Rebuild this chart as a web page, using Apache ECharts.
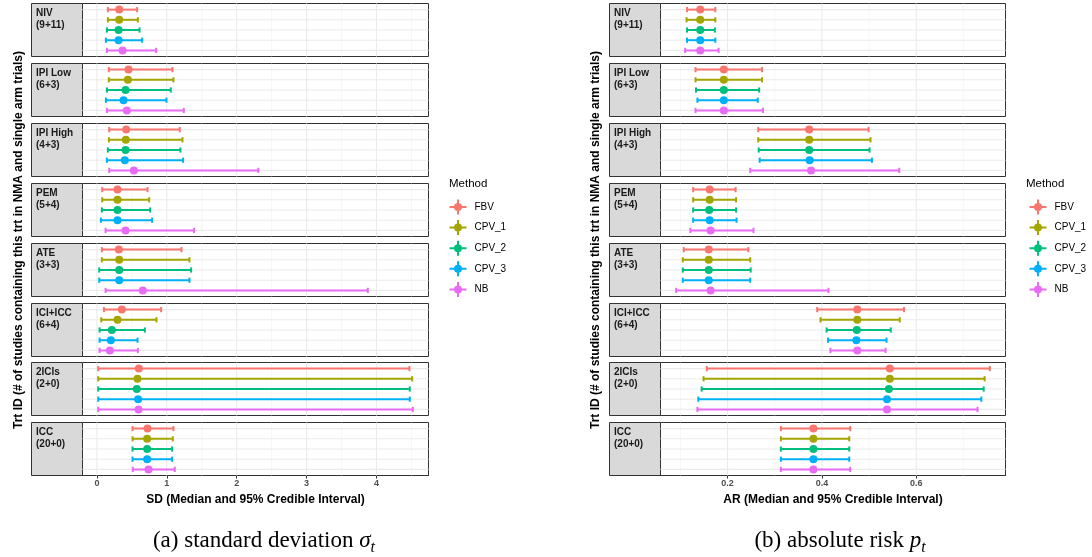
<!DOCTYPE html>
<html><head><meta charset="utf-8">
<script src="https://cdn.jsdelivr.net/npm/echarts@6/dist/echarts.min.js"></script>
<style>html,body{margin:0;padding:0;background:#fff}#c{width:1092px;height:557px}</style>
</head><body><div id="c"></div>
<script>
// ---------- data ----------
const facetNames = ['NIV', 'IPI Low', 'IPI High', 'PEM', 'ATE', 'ICI+ICC', '2ICIs', 'ICC'];
const facetCounts = ['(9+11)', '(6+3)', '(4+3)', '(5+4)', '(3+3)', '(6+4)', '(2+0)', '(20+0)'];
const methods = ['FBV', 'CPV_1', 'CPV_2', 'CPV_3', 'NB'];
// [lower 2.5%, median, upper 97.5%] for each facet, in facet order
const sdFBV  = [[0.157,0.319,0.576],[0.171,0.452,1.081],[0.176,0.419,1.186],[0.076,0.295,0.724],[0.071,0.314,1.210],[0.100,0.357,0.919],[0.019,0.600,4.471],[0.510,0.724,1.095]];
const sdCPV1 = [[0.157,0.319,0.586],[0.171,0.443,1.095],[0.171,0.414,1.224],[0.076,0.295,0.748],[0.071,0.319,1.324],[0.062,0.295,0.852],[0.019,0.581,4.510],[0.510,0.719,1.086]];
const sdCPV2 = [[0.143,0.310,0.610],[0.143,0.410,1.057],[0.157,0.410,1.195],[0.071,0.295,0.762],[0.033,0.319,1.348],[0.038,0.214,0.686],[0.019,0.571,4.476],[0.510,0.719,1.076]];
const sdCPV3 = [[0.129,0.310,0.648],[0.129,0.381,0.995],[0.143,0.400,1.233],[0.057,0.295,0.790],[0.033,0.319,1.324],[0.038,0.200,0.581],[0.019,0.590,4.476],[0.510,0.719,1.076]];
const sdNB   = [[0.143,0.367,0.848],[0.143,0.429,1.243],[0.176,0.529,2.310],[0.124,0.410,1.390],[0.124,0.657,3.876],[0.038,0.186,0.586],[0.019,0.595,4.519],[0.514,0.738,1.114]];
const arFBV  = [[0.114,0.142,0.174],[0.132,0.192,0.273],[0.265,0.373,0.499],[0.127,0.162,0.217],[0.107,0.160,0.244],[0.390,0.475,0.574],[0.156,0.544,0.756],[0.313,0.382,0.460]];
const arCPV1 = [[0.113,0.142,0.174],[0.132,0.192,0.273],[0.265,0.373,0.503],[0.127,0.162,0.218],[0.105,0.160,0.248],[0.397,0.475,0.565],[0.149,0.544,0.745],[0.313,0.382,0.458]];
const arCPV2 = [[0.114,0.142,0.173],[0.133,0.192,0.267],[0.266,0.373,0.501],[0.127,0.161,0.218],[0.105,0.160,0.249],[0.410,0.474,0.546],[0.145,0.542,0.743],[0.313,0.382,0.458]];
const arCPV3 = [[0.114,0.142,0.174],[0.136,0.192,0.264],[0.268,0.374,0.506],[0.127,0.162,0.219],[0.105,0.160,0.248],[0.413,0.473,0.537],[0.138,0.538,0.738],[0.313,0.382,0.458]];
const arNB   = [[0.110,0.142,0.181],[0.132,0.192,0.275],[0.248,0.377,0.564],[0.121,0.164,0.255],[0.091,0.164,0.414],[0.418,0.475,0.535],[0.136,0.538,0.730],[0.313,0.382,0.460]];
const sdTicks = [0, 1, 2, 3, 4];
const sdMinorTicks = [0.5, 1.5, 2.5, 3.5, 4.5];
const arTicks = [0.2, 0.4, 0.6];
const arMinorTicks = [0.1, 0.3, 0.5, 0.7];
const rowIds = [1, 2, 3, 4, 5];

// ---------- styling / layout ----------
const colors = ['#F8766D', '#A3A500', '#00BF7D', '#00B0F6', '#E76BF3'];
const SANS = '"Liberation Sans", Arial, Helvetica, sans-serif';
const SERIF = '"Liberation Serif", "Times New Roman", serif';
const FACET_H = 53;
const facetTop = i => 3.5 + Math.round(i * 59.9);
const yTitle = 'Trt ID (# of studies containing this trt in NMA and single arm trials)';

function expandExtent(arrs) {
  let lo = Infinity, hi = -Infinity;
  arrs.forEach(a => a.forEach(t => { lo = Math.min(lo, t[0]); hi = Math.max(hi, t[2]); }));
  const pad = (hi - lo) * 0.05;
  return [lo - pad, hi + pad];
}

const panels = [
  { data: [sdFBV, sdCPV1, sdCPV2, sdCPV3, sdNB], ticks: sdTicks, minor: sdMinorTicks,
    stripX: 31.5, plotX: 82.5, plotR: 428.5, yTitleX: 19, legendX: 449.5, legendTitleX: 449,
    xTitle: 'SD (Median and 95% Credible Interval)', capX: 264,
    caption: '{n|(a) standard deviation }{i|σ}{s|t}' },
  { data: [arFBV, arCPV1, arCPV2, arCPV3, arNB], ticks: arTicks, minor: arMinorTicks,
    stripX: 609.5, plotX: 660.5, plotR: 1005.5, yTitleX: 596, legendX: 1029.5, legendTitleX: 1026,
    xTitle: 'AR (Median and 95% Credible Interval)', capX: 840,
    caption: '{n|(b) absolute risk }{i|p}{s|t}' }
];

const grids = [], xAxes = [], yAxes = [], series = [], graphics = [];

function renderBackground(panel) {
  return function (params, api) {
    const cs = params.coordSys;
    const children = [];
    panel.minor.forEach(v => {
      const x = api.coord([v, 1])[0];
      children.push({ type: 'line', shape: { x1: x, y1: cs.y, x2: x, y2: cs.y + cs.height },
        style: { stroke: '#F2F2F2', lineWidth: 0.6 } });
    });
    panel.ticks.forEach(v => {
      const x = api.coord([v, 1])[0];
      children.push({ type: 'line', shape: { x1: x, y1: cs.y, x2: x, y2: cs.y + cs.height },
        style: { stroke: '#EBEBEB', lineWidth: 1.1 } });
    });
    rowIds.forEach(r => {
      const y = api.coord([panel.ticks[0], r])[1];
      children.push({ type: 'line', shape: { x1: cs.x, y1: y, x2: cs.x + cs.width, y2: y },
        style: { stroke: '#EBEBEB', lineWidth: 1.1 } });
    });
    return { type: 'group', children };
  };
}

function renderBar(params, api) {
  const y = api.value(3);
  const lo = api.coord([api.value(0), y]);
  const md = api.coord([api.value(1), y]);
  const hi = api.coord([api.value(2), y]);
  const color = api.visual('color');
  const cap = 2.6;
  const ls = { stroke: color, lineWidth: 2 };
  return { type: 'group', children: [
    { type: 'line', shape: { x1: lo[0], y1: lo[1], x2: hi[0], y2: hi[1] }, style: ls },
    { type: 'line', shape: { x1: lo[0], y1: lo[1] - cap, x2: lo[0], y2: lo[1] + cap }, style: ls },
    { type: 'line', shape: { x1: hi[0], y1: hi[1] - cap, x2: hi[0], y2: hi[1] + cap }, style: ls },
    { type: 'circle', shape: { cx: md[0], cy: md[1], r: 4 }, style: { fill: color } }
  ] };
}

const legendIcon = 'path://M0,6.5 H17 V8.5 H0 Z M7.5,0 H9.5 V15 H7.5 Z M8.5,3.5 A4,4 0 1,1 8.49,3.5 Z';
const legends = [];

panels.forEach((panel, p) => {
  const ext = expandExtent(panel.data);
  facetNames.forEach((fname, f) => {
    const g = grids.length;
    const top = facetTop(f);
    const bottom = f === facetNames.length - 1;
    grids.push({ left: panel.plotX, top: top, width: panel.plotR - panel.plotX, height: FACET_H,
      show: true, borderColor: '#333333', borderWidth: 1, backgroundColor: '#FFFFFF',
      containLabel: false, outerBoundsMode: 'none' });
    xAxes.push({ type: 'value', gridIndex: g, min: ext[0], max: ext[1], show: bottom,
      axisLine: { show: true, onZero: false, lineStyle: { color: '#333333', width: 1 } },
      axisTick: { show: true, customValues: panel.ticks, length: 3, lineStyle: { color: '#333333', width: 1 } },
      axisLabel: { show: true, customValues: panel.ticks, margin: 4, fontSize: 9, fontWeight: 'bold',
        color: '#4D4D4D', fontFamily: SANS },
      splitLine: { show: false }, minorSplitLine: { show: false },
      name: bottom ? panel.xTitle : '', nameLocation: 'middle', nameGap: 18,
      nameTextStyle: { fontSize: 12, fontWeight: 'bold', color: '#000000', fontFamily: SANS } });
    yAxes.push({ type: 'value', gridIndex: g, min: 0.4, max: 5.6, inverse: true, show: false,
      splitLine: { show: false } });
    series.push({ type: 'custom', xAxisIndex: g, yAxisIndex: g, silent: true, z: 1,
      data: [[panel.ticks[0], 1]], renderItem: renderBackground(panel), tooltip: { show: false } });
    methods.forEach((m, k) => {
      const t = panel.data[k][f];
      series.push({ type: 'custom', name: m, xAxisIndex: g, yAxisIndex: g, z: 3,
        itemStyle: { color: colors[k] }, encode: { x: [0, 1, 2], y: 3 },
        data: [[t[0], t[1], t[2], rowIds[k]]], renderItem: renderBar });
    });
    // facet strip
    graphics.push({ type: 'rect', shape: { x: panel.stripX, y: top, width: panel.plotX - panel.stripX, height: FACET_H },
      style: { fill: '#D9D9D9', stroke: '#333333', lineWidth: 1 }, silent: true });
    graphics.push({ type: 'text', x: panel.stripX + 4.5, y: top + 3.5, silent: true,
      style: { text: fname + '\n' + facetCounts[f], font: 'bold 10px ' + SANS, fill: '#1A1A1A',
        lineHeight: 12, align: 'left', verticalAlign: 'top', textAlign: 'left', textVerticalAlign: 'top' } });
  });
  // y-axis title
  graphics.push({ type: 'text', x: panel.yTitleX, y: 240, rotation: Math.PI / 2, silent: true,
    style: { text: yTitle, font: 'bold 12px ' + SANS, fill: '#000000',
      align: 'center', verticalAlign: 'middle', textAlign: 'center', textVerticalAlign: 'middle' } });
  // legend title
  graphics.push({ type: 'text', x: panel.legendTitleX, y: 184, silent: true,
    style: { text: 'Method', font: '11.5px ' + SANS, fill: '#000000',
      align: 'left', verticalAlign: 'middle', textAlign: 'left', textVerticalAlign: 'middle' } });
  // caption
  graphics.push({ type: 'text', x: panel.capX, y: 541, silent: true,
    style: { text: panel.caption, align: 'center', verticalAlign: 'middle', textAlign: 'center', textVerticalAlign: 'middle',
      rich: {
        n: { fontFamily: SERIF, fontSize: 23, fill: '#000', color: '#000', lineHeight: 30, verticalAlign: 'middle' },
        i: { fontFamily: SERIF, fontSize: 23, fontStyle: 'italic', fill: '#000', color: '#000', lineHeight: 30, verticalAlign: 'middle' },
        s: { fontFamily: SERIF, fontSize: 16, fontStyle: 'italic', fill: '#000', color: '#000', lineHeight: 15, verticalAlign: 'bottom' }
      } } });
  legends.push({ orient: 'vertical', left: panel.legendX, top: 199.5, padding: 0,
    itemWidth: 17, itemHeight: 15, itemGap: 5.6, icon: legendIcon, data: methods,
    textStyle: { fontSize: 10, color: '#000000', fontFamily: SANS, padding: [0, 0, 0, 3] } });
});

const chart = echarts.init(document.getElementById('c'), null, { renderer: 'canvas' });
chart.setOption({
  animation: false,
  backgroundColor: '#FFFFFF',
  grid: grids, xAxis: xAxes, yAxis: yAxes, series: series,
  legend: legends,
  graphic: { elements: graphics }
});
</script></body></html>
